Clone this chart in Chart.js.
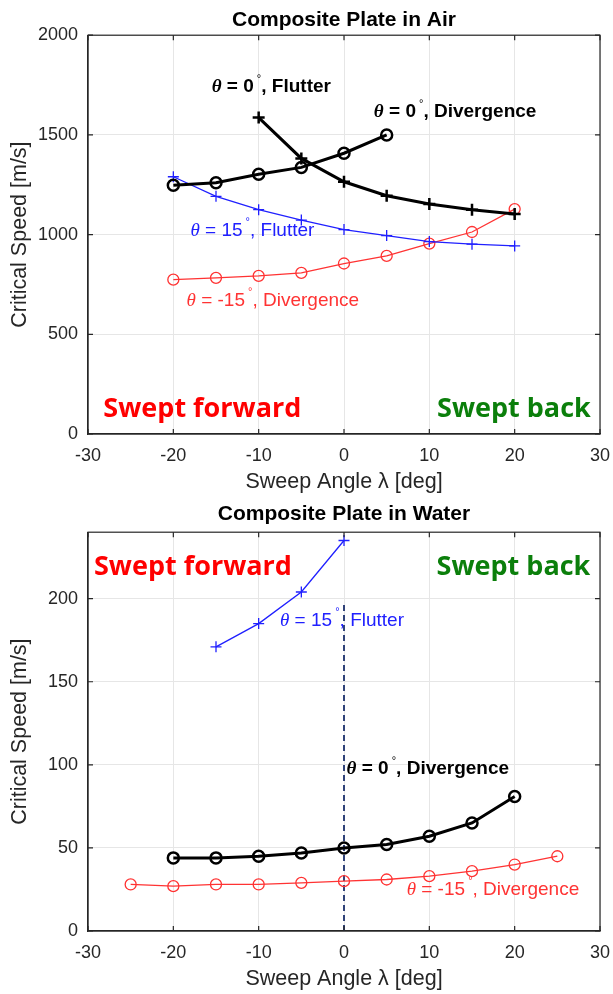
<!DOCTYPE html>
<html>
<head>
<meta charset="utf-8">
<script src="https://cdn.jsdelivr.net/npm/chart.js@4.4.1/dist/chart.umd.min.js"></script>
<style>
  html, body { margin: 0; background: #fff; }
  .box { position: absolute; left: 0; width: 613px; }
  #airBox { top: 0; height: 495px; }
  #waterBox { top: 495px; height: 499px; }
</style>
</head>
<body>
<div class="box" id="airBox"><canvas id="air"></canvas></div>
<div class="box" id="waterBox"><canvas id="water"></canvas></div>
<script>
// axis ticks
const angleTicks = [-30, -20, -10, 0, 10, 20, 30];
const airSpeedTicks = [0, 500, 1000, 1500, 2000];
const waterSpeedTicks = [0, 50, 100, 150, 200];

// Composite plate in air
const airDiv0X = [-20, -15, -10, -5, 0, 5];
const airDiv0Y = [1247, 1260, 1303, 1337, 1408, 1500];
const airFlut0X = [-10, -5, 0, 5, 10, 15, 20];
const airFlut0Y = [1587, 1382, 1265, 1195, 1153, 1125, 1103];
const airFlut15X = [-20, -15, -10, -5, 0, 5, 10, 15, 20];
const airFlut15Y = [1290, 1192, 1125, 1073, 1025, 995, 965, 952, 943];
const airDivM15X = [-20, -15, -10, -5, 0, 5, 10, 15, 20];
const airDivM15Y = [774, 783, 793, 808, 855, 893, 955, 1013, 1128];

// Composite plate in water
const waterFlut15X = [-15, -10, -5, 0];
const waterFlut15Y = [171, 185, 204, 235];
const waterDiv0X = [-20, -15, -10, -5, 0, 5, 10, 15, 20];
const waterDiv0Y = [44, 44, 45, 47, 50, 52, 57, 65, 81];
const waterDivM15X = [-25, -20, -15, -10, -5, 0, 5, 10, 15, 20, 25];
const waterDivM15Y = [28, 27, 28, 28, 29, 30, 31, 33, 36, 40, 45];
const waterRefX = [0, 0];
const waterRefY = [0, 198];

const C = {
  ink: '#262626', axis: '#262626', grid: '#e6e6e6',
  black: '#000', blue: '#2020ff', red: '#ff3333', navy: '#1b2f6b',
  fwd: '#ff0000', back: '#0b7f0b',
};
const SANS = '"Liberation Sans", Arial, sans-serif';
Chart.defaults.font.family = SANS;

const pts = (xs, ys) => xs.map((v, i) => ({ x: v, y: ys[i] }));

const thick = (xs, ys, style) => ({
  data: pts(xs, ys), borderColor: C.black, backgroundColor: 'rgba(0,0,0,0)', borderWidth: 3,
  pointStyle: style, pointRadius: style === 'circle' ? 5.5 : 6, pointBorderWidth: 2.5,
  pointBorderColor: C.black, pointBackgroundColor: 'rgba(0,0,0,0)',
});
const thin = (xs, ys, style, color) => ({
  data: pts(xs, ys), borderColor: color, backgroundColor: 'rgba(0,0,0,0)', borderWidth: 1.3,
  pointStyle: style, pointRadius: 5.5, pointBorderWidth: 1.3,
  pointBorderColor: color, pointBackgroundColor: 'rgba(0,0,0,0)',
});

// θ = n°, text
function theta(deg, rest, size, weight) {
  return [
    { t: 'θ', font: `italic ${weight} ${size}px "Liberation Serif"` },
    { t: ` = ${deg}`, font: `${weight} ${size}px ${SANS}` },
    { t: ' °', font: `${Math.round(size * 0.6)}px ${SANS}`, dy: -size * 0.45 },
    { t: `, ${rest}`, font: `${weight} ${size}px ${SANS}` },
  ];
}
const swept = t => [{ t, font: `bold 27px "Open Sans"` }];

/* box + inward ticks on all sides */
const frame = {
  id: 'frame',
  afterDraw(chart) {
    const { ctx, chartArea: a, scales: { x, y } } = chart;
    ctx.save();
    ctx.strokeStyle = C.axis;
    ctx.lineWidth = 1.2;
    ctx.strokeRect(a.left, a.top, a.right - a.left, a.bottom - a.top);
    ctx.beginPath();
    x.ticks.forEach(t => {
      const p = x.getPixelForValue(t.value);
      ctx.moveTo(p, a.bottom); ctx.lineTo(p, a.bottom - 5);
      ctx.moveTo(p, a.top); ctx.lineTo(p, a.top + 5);
    });
    y.ticks.forEach(t => {
      const p = y.getPixelForValue(t.value);
      ctx.moveTo(a.left, p); ctx.lineTo(a.left + 5, p);
      ctx.moveTo(a.right, p); ctx.lineTo(a.right - 5, p);
    });
    ctx.stroke();
    ctx.restore();
  },
};

/* text labels anchored in data space */
const notes = {
  id: 'notes',
  afterDatasetsDraw(chart, args, opts) {
    const { ctx, scales: { x, y } } = chart;
    ctx.save();
    (opts.items || []).forEach(n => {
      let px = x.getPixelForValue(n.x);
      const py = y.getPixelForValue(n.y);
      ctx.fillStyle = n.color;
      ctx.textBaseline = n.baseline || 'middle';
      ctx.textAlign = 'left';
      n.runs.forEach(r => {
        ctx.font = r.font;
        ctx.fillText(r.t, px, py + (r.dy || 0));
        px += ctx.measureText(r.t).width;
      });
    });
    ctx.restore();
  },
};

function speedChart(id, o) {
  return new Chart(document.getElementById(id), {
    type: 'line',
    data: { datasets: o.datasets },
    options: {
      animation: false, responsive: true, maintainAspectRatio: false,
      layout: { padding: { left: 0, right: 13, top: 0, bottom: 0 } },
      plugins: {
        legend: { display: false },
        tooltip: { enabled: false },
        title: {
          display: true, fullSize: false, text: o.title, color: C.black,
          font: { size: 21, weight: 'bold' }, padding: { top: o.titleTop, bottom: o.titleBottom },
        },
        notes: { items: o.notes },
      },
      scales: {
        x: {
          type: 'linear', min: -30, max: 30,
          afterBuildTicks: s => { s.ticks = angleTicks.map(v => ({ value: v })); },
          afterFit: s => { s.height = o.xHeight; s.paddingLeft = 0; s.paddingRight = 0; },
          grid: { color: C.grid, drawTicks: false },
          border: { color: C.axis, width: 1.2 },
          ticks: { padding: 11, color: C.ink, font: { size: 18 }, maxRotation: 0, autoSkip: false, callback: v => String(v) },
          title: { display: true, text: 'Sweep Angle λ [deg]', color: C.ink, font: { size: 21.5 }, padding: { top: 0, bottom: o.xTitleBottom } },
        },
        y: {
          type: 'linear', min: 0, max: o.yMax,
          afterBuildTicks: s => { s.ticks = o.yTicks.map(v => ({ value: v })); },
          afterFit: s => { s.width = 88; },
          grid: { color: C.grid, drawTicks: false },
          border: { color: C.axis, width: 1.2 },
          ticks: { padding: 10, color: C.ink, font: { size: 18 }, callback: v => String(v) },
          title: { display: true, text: 'Critical Speed [m/s]', color: C.ink, font: { size: 21.5 }, padding: { top: 7, bottom: 0 } },
        },
      },
    },
    plugins: [frame, notes],
  });
}

speedChart('air', {
  title: 'Composite Plate in Air', titleTop: 8, titleBottom: 2,
  xHeight: 61, xTitleBottom: 0, yMax: 2000, yTicks: airSpeedTicks,
  datasets: [
    thick(airDiv0X, airDiv0Y, 'circle'),
    thick(airFlut0X, airFlut0Y, 'cross'),
    thin(airFlut15X, airFlut15Y, 'cross', C.blue),
    thin(airDivM15X, airDivM15Y, 'circle', C.red),
  ],
  notes: [
    { x: -15.5, y: 1739, color: C.black, runs: theta(0, 'Flutter', 19, 'bold') },
    { x: 3.5, y: 1614, color: C.black, runs: theta(0, 'Divergence', 19, 'bold') },
    { x: -18.0, y: 1018, color: C.blue, runs: theta(15, 'Flutter', 19, 'normal') },
    { x: -18.45, y: 667, color: C.red, runs: theta(-15, 'Divergence', 19, 'normal') },
    { x: -28.2, y: 83, color: C.fwd, baseline: 'alphabetic', runs: swept('Swept forward') },
    { x: 10.9, y: 83, color: C.back, baseline: 'alphabetic', runs: swept('Swept back') },
  ],
});

speedChart('water', {
  title: 'Composite Plate in Water', titleTop: 7, titleBottom: 5,
  xHeight: 63, xTitleBottom: 2, yMax: 240, yTicks: waterSpeedTicks,
  datasets: [
    thin(waterFlut15X, waterFlut15Y, 'cross', C.blue),
    thick(waterDiv0X, waterDiv0Y, 'circle'),
    thin(waterDivM15X, waterDivM15Y, 'circle', C.red),
    {
      data: pts(waterRefX, waterRefY), borderColor: C.navy, borderWidth: 1.8,
      borderDash: [6, 4], pointRadius: 0,
    },
  ],
  notes: [
    { x: -29.3, y: 214.5, color: C.fwd, baseline: 'alphabetic', runs: swept('Swept forward') },
    { x: 10.85, y: 214.5, color: C.back, baseline: 'alphabetic', runs: swept('Swept back') },
    { x: -7.5, y: 186.6, color: C.blue, runs: theta(15, 'Flutter', 19, 'normal') },
    { x: 0.3, y: 97.4, color: C.black, runs: theta(0, 'Divergence', 19, 'bold') },
    { x: 7.34, y: 24.7, color: C.red, runs: theta(-15, 'Divergence', 19, 'normal') },
  ],
});
</script>
</body>
</html>
